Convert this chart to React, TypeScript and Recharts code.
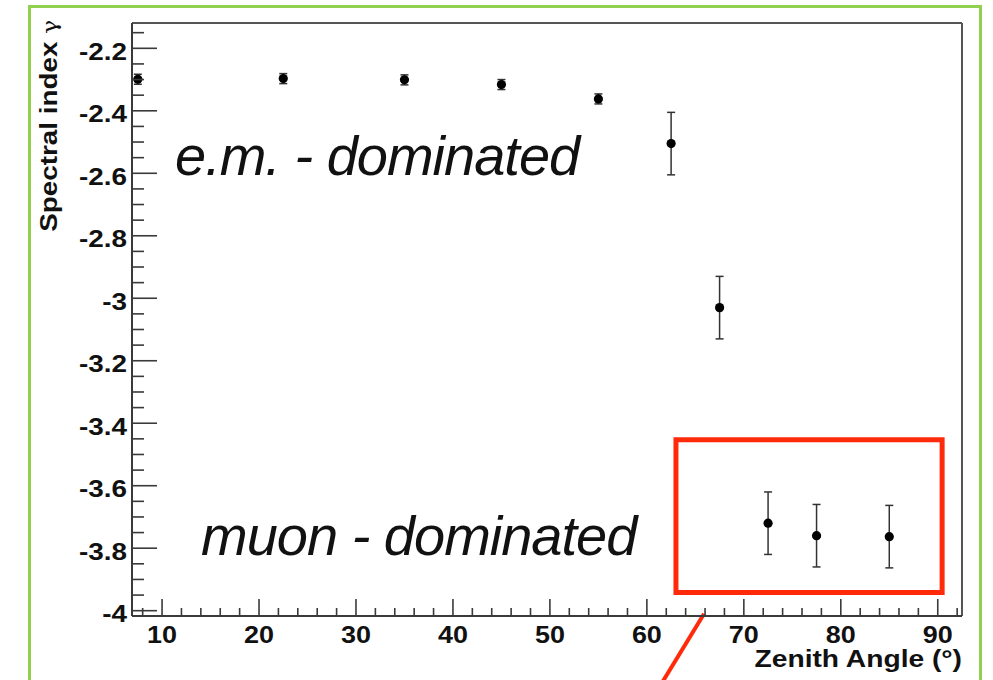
import React from 'react';
import {
  ScatterChart,
  Scatter,
  XAxis,
  YAxis,
  ErrorBar,
  ReferenceArea,
  ReferenceLine,
  Customized,
} from 'recharts';

// ---- data ----
const zenithAngles = [7.5, 22.5, 35, 45, 55, 62.5, 67.5, 72.5, 77.5, 85];
const spectralIndex = [-2.299, -2.297, -2.301, -2.316, -2.362, -2.505, -3.03, -3.72, -3.76, -3.763];
const indexErrors = [0.016, 0.016, 0.016, 0.016, 0.016, 0.1, 0.1, 0.1, 0.1, 0.1];

const xMajorTicks = [10, 20, 30, 40, 50, 60, 70, 80, 90];
const xMinorTicks = [8, 12, 14, 16, 18, 22, 24, 26, 28, 32, 34, 36, 38, 42, 44, 46, 48, 52, 54, 56, 58, 62, 64, 66, 68, 72, 74, 76, 78, 82, 84, 86, 88, 92];
const yMajorTicks = [-4, -3.8, -3.6, -3.4, -3.2, -3, -2.8, -2.6, -2.4, -2.2];
const yMinorTicks = [-3.95, -3.9, -3.85, -3.75, -3.7, -3.65, -3.55, -3.5, -3.45, -3.35, -3.3, -3.25, -3.15, -3.1, -3.05, -2.95, -2.9, -2.85, -2.75, -2.7, -2.65, -2.55, -2.5, -2.45, -2.35, -2.3, -2.25, -2.15];

const xDomain = [6.9, 92.5];
const yDomain = [-4.017, -2.119];

// annotation box (muon region) and pointer line, in data units
const boxX = [63, 90.45];
const boxY = [-3.942, -3.453];
const pointerSegment = [
  { x: 65.9, y: -4.01 },
  { x: 60.0, y: -4.31 },
];

const labels = {
  em: 'e.m. - dominated',
  muon: 'muon - dominated',
  xTitle: 'Zenith Angle (°)',
  yTitle: 'Spectral index ',
};

const data = zenithAngles.map((x, i) => ({ x, y: spectralIndex[i], err: indexErrors[i] }));

const allX = [...xMajorTicks, ...xMinorTicks].sort((a, b) => a - b);
const allY = [...yMajorTicks, ...yMinorTicks].sort((a, b) => a - b);

const AXIS_COLOR = '#3a3a3a';
const FONT = '"Liberation Sans", Arial, Helvetica, sans-serif';

const XTick = (props: any) => {
  const { x, y, payload } = props;
  const v = payload.value;
  const major = xMajorTicks.includes(v);
  return (
    <g>
      <line x1={x} y1={y} x2={x} y2={y - (major ? 17 : 8)} stroke={AXIS_COLOR} strokeWidth={1.6} />
      {major && (
        <text
          transform={`translate(${x},${y + 27}) scale(1.1,1)`}
          x={0}
          y={0}
          textAnchor="middle"
          fontFamily={FONT}
          fontWeight="bold"
          fontSize={24.5}
          fill="#111"
        >
          {String(v)}
        </text>
      )}
    </g>
  );
};

const YTick = (props: any) => {
  const { x, y, payload } = props;
  const v = payload.value;
  const major = yMajorTicks.some((t) => Math.abs(t - v) < 1e-9);
  return (
    <g>
      <line x1={x} y1={y} x2={x + (major ? 25 : 12)} y2={y} stroke={AXIS_COLOR} strokeWidth={1.6} />
      {major && (
        <text
          transform={`translate(${x - 5},${y + 11.5}) scale(1.16,1)`}
          x={0}
          y={0}
          textAnchor="end"
          fontFamily={FONT}
          fontWeight="bold"
          fontSize={24}
          fill="#111"
        >
          {String(Number(v.toFixed(1)))}
        </text>
      )}
    </g>
  );
};

const Annotations = () => (
  <g>
    <text x={175} y={175} fontFamily={FONT} fontStyle="italic" fontSize={56} letterSpacing={-1} fill="#111">
      {labels.em}
    </text>
    <text x={201} y={555} fontFamily={FONT} fontStyle="italic" fontSize={56} letterSpacing={-1} fill="#111">
      {labels.muon}
    </text>
    <text
      transform="translate(57,20) rotate(-90) scale(1.16,1)"
      x={0}
      y={0}
      textAnchor="end"
      fontFamily={FONT}
      fontWeight="bold"
      fontSize={24}
      fill="#111"
    >
      {labels.yTitle}
      <tspan fontWeight="normal" fontFamily='"DejaVu Serif", serif' fontSize={20}>γ</tspan>
    </text>
    <text
      transform="translate(962,667) scale(1.2,1)"
      x={0}
      y={0}
      textAnchor="end"
      fontFamily={FONT}
      fontWeight="bold"
      fontSize={23.5}
      fill="#111"
    >
      {labels.xTitle}
    </text>
  </g>
);

const Dot = (props: any) => <circle cx={props.cx} cy={props.cy} r={4.6} fill="#000" />;

export default function App() {
  return (
    <div
      style={{
        position: 'absolute',
        left: 0,
        top: 0,
        width: 993,
        height: 680,
        overflow: 'hidden',
        background: '#fff',
      }}
    >
      <div
        style={{
          position: 'absolute',
          left: 28,
          top: 5,
          width: 948,
          height: 720,
          border: '3px solid #92d050',
        }}
      />
      <div style={{ position: 'absolute', left: 0, top: 0 }}>
        <ScatterChart width={993} height={680} margin={{ top: 22, right: 30, bottom: 0, left: 0 }}>
          <XAxis
            xAxisId="top"
            orientation="top"
            type="number"
            dataKey="x"
            domain={xDomain}
            allowDataOverflow
            height={1}
            tick={false}
            tickLine={false}
            axisLine={{ stroke: '#555', strokeWidth: 2 }}
          />
          <YAxis
            yAxisId="right"
            orientation="right"
            type="number"
            dataKey="y"
            domain={yDomain}
            allowDataOverflow
            width={1}
            tick={false}
            tickLine={false}
            axisLine={{ stroke: '#555', strokeWidth: 2 }}
          />
          <XAxis
            type="number"
            dataKey="x"
            domain={xDomain}
            allowDataOverflow
            ticks={allX}
            interval={0}
            height={64}
            tickSize={0}
            tickMargin={0}
            tickLine={false}
            tick={<XTick />}
            axisLine={{ stroke: AXIS_COLOR, strokeWidth: 2 }}
          />
          <YAxis
            type="number"
            dataKey="y"
            domain={yDomain}
            allowDataOverflow
            ticks={allY}
            interval={0}
            width={132}
            tickSize={0}
            tickMargin={0}
            tickLine={false}
            tick={<YTick />}
            axisLine={{ stroke: AXIS_COLOR, strokeWidth: 2 }}
          />
          <ReferenceArea
            x1={boxX[0]}
            x2={boxX[1]}
            y1={boxY[0]}
            y2={boxY[1]}
            fill="none"
            fillOpacity={0}
            stroke="#ff2a0a"
            strokeWidth={5}
            ifOverflow="visible"
          />
          <ReferenceLine segment={pointerSegment} stroke="#ff2a0a" strokeWidth={4} ifOverflow="visible" />
          <Scatter data={data} isAnimationActive={false} shape={<Dot />}>
            <ErrorBar dataKey="err" direction="y" width={4} stroke="#333" strokeWidth={1.5} isAnimationActive={false} />
          </Scatter>
          <Customized component={<Annotations />} />
        </ScatterChart>
      </div>
    </div>
  );
}
